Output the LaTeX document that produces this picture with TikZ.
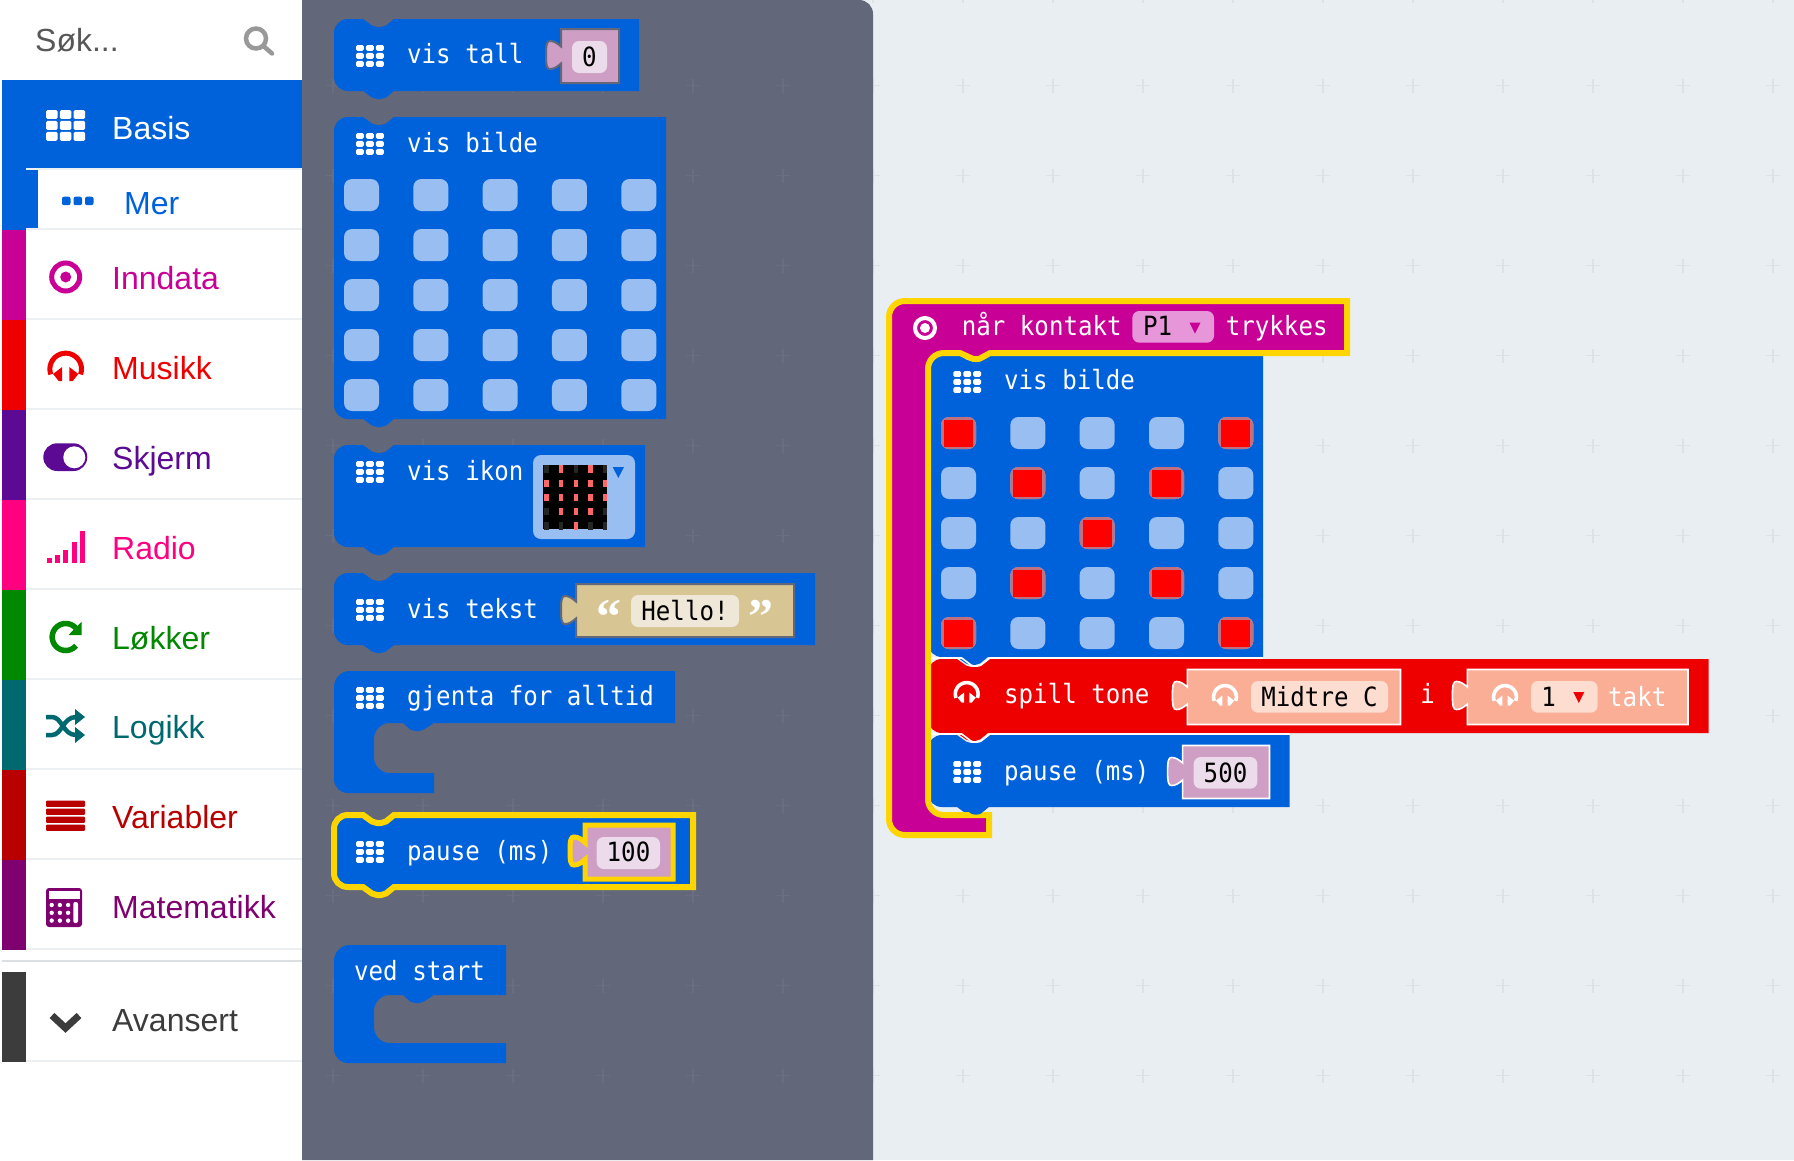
\documentclass[tikz,border=0pt]{standalone}
\usepackage{fontspec}
\setmainfont{Liberation Sans}
\newfontfamily\monof[FakeStretch=0.91]{DejaVu Sans Mono}
\newfontfamily\quotef{Liberation Serif}
\definecolor{bgc}{HTML}{E9EEF2}
\definecolor{flyc}{HTML}{62687A}
\definecolor{plusc}{HTML}{DDE2E6}
\definecolor{flypc}{HTML}{696F81}
\definecolor{sepc}{HTML}{ECF0F3}
\definecolor{basisc}{HTML}{0062DB}
\definecolor{inputc}{HTML}{C90096}
\definecolor{musicc}{HTML}{EE0000}
\definecolor{screenc}{HTML}{5C0A94}
\definecolor{radioc}{HTML}{FF0080}
\definecolor{loopc}{HTML}{008800}
\definecolor{logicc}{HTML}{006970}
\definecolor{varc}{HTML}{B80000}
\definecolor{mathc}{HTML}{7F006F}
\definecolor{advc}{HTML}{3C3C3C}
\definecolor{ledc}{HTML}{99BEF1}
\definecolor{rimc}{HTML}{C0707F}
\definecolor{numc}{HTML}{CE9EC4}
\definecolor{numfc}{HTML}{ECDCEB}
\definecolor{strc}{HTML}{D8C594}
\definecolor{strfc}{HTML}{EFE8D8}
\definecolor{notec}{HTML}{FBAE96}
\definecolor{notefc}{HTML}{FDDDD0}
\definecolor{pinfc}{HTML}{E796DA}
\definecolor{hlc}{HTML}{FFD500}
\tikzset{
  sidelabel/.style={font=\fontsize{32}{36}\selectfont, anchor=base west, inner sep=0pt},
  blocktext/.style={font=\monof\fontsize{26.5}{30}\selectfont, text=white, anchor=base west, inner sep=0pt},
  fieldtext/.style={font=\monof\fontsize{26.5}{30}\selectfont, text=black, anchor=base, inner sep=0pt},
  blueblk/.style={fill=basisc},
  cellstyle/.style={fill=ledc, rounded corners=8pt},
  valgray/.style={line width=2pt, draw=flyc, miter limit=10},
  valwhite/.style={line width=1.6pt, draw=white, miter limit=10},
}
% stack block: style, x0, y0, x1, y1
\newcommand\stackblk[5]{\path[#1] (#2,#3+14) .. controls (#2,#3+6) and (#2+6,#3) .. (#2+14,#3) -- (#2+29,#3) -- (#2+38,#3+6.5) .. controls (#2+40,#3+8) and (#2+41,#3+8) .. (#2+43,#3+8) -- (#2+47,#3+8) .. controls (#2+49,#3+8) and (#2+50,#3+8) .. (#2+52,#3+6.5) -- (#2+60,#3) -- (#4,#3) -- (#4,#5) -- (#2+60,#5) -- (#2+52,#5+6.5) .. controls (#2+50,#5+8) and (#2+49,#5+8) .. (#2+47,#5+8) -- (#2+43,#5+8) .. controls (#2+41,#5+8) and (#2+40,#5+8) .. (#2+38,#5+6.5) -- (#2+29,#5) -- (#2+14,#5) .. controls (#2+6,#5) and (#2,#5-6) .. (#2,#5-14) -- cycle;}
% C block: x0,y0,x1(top right),yh,xb,yi,yb
\newcommand\cblk[7]{\path[blueblk] (#1,#2+16) .. controls (#1,#2+7) and (#1+7,#2) .. (#1+16,#2) -- (#3,#2) -- (#3,#4) -- (#1+100,#4) -- (#1+90,#4+6.5) .. controls (#1+88,#4+8) and (#1+87,#4+8) .. (#1+85,#4+8) -- (#1+81,#4+8) .. controls (#1+79,#4+8) and (#1+78,#4+8) .. (#1+76,#4+6.5) -- (#1+69,#4) -- (#1+56,#4) .. controls (#1+47,#4) and (#1+40,#4+7) .. (#1+40,#4+16) -- (#1+40,#6-16) .. controls (#1+40,#6-7) and (#1+47,#6) .. (#1+56,#6) -- (#5,#6) -- (#5,#7) -- (#1+14,#7) .. controls (#1+6,#7) and (#1,#7-6) .. (#1,#7-14) -- cycle;}
% value block: style, x0, y0, x1, y1
\newcommand\valblk[5]{\path[#1] (#2,#3) -- (#4,#3) -- (#4,#5) -- (#2,#5) -- (#2,#3+34.5) .. controls (#2-4,#3+38) and (#2-7,#3+40) .. (#2-11,#3+40) .. controls (#2-14,#3+40) and (#2-15,#3+37) .. (#2-15,#3+26) .. controls (#2-15,#3+15) and (#2-14,#3+12) .. (#2-11,#3+12) .. controls (#2-7,#3+12) and (#2-4,#3+14) .. (#2,#3+17.5) -- cycle;}
% grid icon: x, y, w, h, colour
\newcommand\gridicon[5]{\foreach \gi in {0,1,2}{\foreach \gj in {0,1,2}{\path[fill=#5, rounded corners=1.5pt] ({#1+\gi*(#3+2.2)/3.03},{#2+\gj*(#4+2.2)/3.03}) rectangle ++({(#3-4.4)/3},{(#4-4.4)/3});}}}
% headphones: cx, cy, scale, colour
\newcommand\headph[4]{\draw[#4, line width=#3*5pt] plot[domain=-20:200,samples=30] ({#1+15.8*#3*cos(\x)},{#2-15.8*#3*sin(\x)});
  \fill[#4] (#1-3.6*#3,#2-2*#3) -- (#1-3.6*#3,#2+12*#3) -- (#1-7*#3,#2+12*#3) -- (#1-12.6*#3,#2+5*#3) -- cycle;
  \fill[#4] (#1+3.6*#3,#2-2*#3) -- (#1+3.6*#3,#2+12*#3) -- (#1+7*#3,#2+12*#3) -- (#1+12.6*#3,#2+5*#3) -- cycle;}
\newcommand\plusmark[3]{\draw[#3, line width=1.6pt] (#1-7,#2) -- (#1+7,#2) (#1,#2-7) -- (#1,#2+7);}
\begin{document}
\begin{tikzpicture}[x=1pt,y=-1pt]
\useasboundingbox (0,0) rectangle (1794,1160);
\fill[bgc] (0,0) rectangle (1794,1160);
% workspace grid
\foreach \py in {-4.5,85.5,175.5,265.5,355.5,445.5,535.5,625.5,715.5,805.5,895.5,985.5,1075.5}{
  \foreach \px in {873,963,1053,1143,1233,1323,1413,1503,1593,1683,1773}{\plusmark{\px}{\py}{plusc}}}
% sidebar
\fill[white] (0,0) rectangle (302,1160);
% flyout
\fill[flyc] (302,0) -- (859,0) .. controls (867,0) and (873,6) .. (873,14) -- (873,1160) -- (302,1160) -- cycle;
\foreach \py in {85.5,175.5,265.5,355.5,445.5,535.5,625.5,715.5,805.5,895.5,985.5,1075.5}{
  \foreach \px in {333,423,513,603,693,783}{\plusmark{\px}{\py}{flypc}}}
% sidebar rows
\fill[basisc] (2,80) rectangle (302,168);
\fill[basisc] (2,168) rectangle (38,230);
\fill[sepc] (26,168) rectangle (302,170);
\fill[white] (38,170) rectangle (302,228);
\foreach \py/\cl in {230/inputc,320/musicc,410/screenc,500/radioc,590/loopc,680/logicc,770/varc,860/mathc}{
  \fill[\cl] (2,\py) rectangle (26,\py+90);
  \fill[sepc] (26,\py-2) rectangle (302,\py);}
\fill[sepc] (26,948) rectangle (302,950);
\fill[sepc!85!gray] (2,960) rectangle (302,962);
\fill[advc] (2,972) rectangle (26,1062);
\fill[sepc] (26,1060) rectangle (302,1062);
% sidebar text
\node[sidelabel, text=black!66] (search) at (35,51) {Søk...};
\node[sidelabel, text=white] (tbasis) at (112,139) {Basis};
\node[sidelabel, text=basisc] (tmer) at (124,214) {Mer};
\node[sidelabel, text=inputc] (tinput) at (112,289) {Inndata};
\node[sidelabel, text=musicc] (tmusic) at (112,379) {Musikk};
\node[sidelabel, text=screenc] (tscreen) at (112,469) {Skjerm};
\node[sidelabel, text=radioc] (tradio) at (112,559) {Radio};
\node[sidelabel, text=loopc] (tloop) at (112,649) {Løkker};
\node[sidelabel, text=logicc] (tlogic) at (112,738) {Logikk};
\node[sidelabel, text=varc] (tvar) at (112,828) {Variabler};
\node[sidelabel, text=mathc] (tmath) at (112,918) {Matematikk};
\node[sidelabel, text=advc] (tadv) at (112,1031) {Avansert};
% sidebar icons
\draw[black!40, line width=4.5pt] (256,38.5) circle (10pt);
\draw[black!40, line width=4.5pt, line cap=round] (264,46.5) -- (272,53.5);
\gridicon{46}{110}{39.5}{31}{white}
\foreach \i in {0,1,2}{\path[fill=basisc, rounded corners=2pt] ({62+\i*11.5},196.7) rectangle ++(8.5,8.5);}
\draw[inputc, line width=5pt] (65.7,277) circle (14pt);
\fill[inputc] (65.7,277) circle (5.5pt);
\headph{65.7}{369}{1}{musicc}
\path[fill=screenc, rounded corners=13.8pt] (43.3,443.3) rectangle (87.3,471);
\fill[white] (74.3,457.3) circle (11pt);
\foreach \bx/\by in {46.7/558.3,55/555,63.3/550,71.7/541.7,80/531}{\fill[radioc] (\bx,\by) rectangle (\bx+5,563.3);}
\draw[loopc, line width=5.5pt] plot[domain=40:320,samples=30] ({65.7+13.5*cos(\x)},{637-13.5*sin(\x)});
\fill[loopc] (81.7,621.7) -- (81.7,635) -- (68.5,635) -- cycle;
\draw[logicc, line width=4.5pt] (46,717) -- (52,717) .. controls (62,717) and (63,735) .. (76,735);
\draw[logicc, line width=4.5pt] (46,735) -- (52,735) .. controls (62,735) and (63,717) .. (76,717);
\fill[logicc] (75,709) -- (85,717) -- (75,725) -- cycle;
\fill[logicc] (75,727) -- (85,735) -- (75,743) -- cycle;
\foreach \i in {0,1,2,3}{\path[fill=varc, rounded corners=1pt] (46,{800.7+\i*8}) rectangle ++(39,6.2);}
\path[fill=mathc, rounded corners=3pt] (46,888) rectangle (82,927);
\fill[white] (49,891) rectangle (79.5,899);
\foreach \i in {0,1,2}{\foreach \j in {0,1,2}{\fill[white] ({51.7+\i*8.2},{905+\j*7.8}) circle (2.2pt);}}
\path[fill=white, rounded corners=2pt] (73.3,902) rectangle (78,923);
\draw[advc, line width=7pt] (52,1015.5) -- (65.5,1028) -- (79,1015.5);
% ---- flyout blocks ----
\stackblk{blueblk}{334}{19}{639}{91}
\gridicon{356}{45}{28}{22}{white}
\node[blocktext] (t1) at (407,63) {vis tall};
\valblk{fill=numc, valgray}{561}{29}{619}{83}
\path[fill=numfc, rounded corners=7pt] (572,41) rectangle (607,73);
\node[fieldtext] (v1) at (589.5,66) {0};
% vis bilde
\stackblk{blueblk}{334}{117}{666}{419}
\gridicon{356}{133}{28}{22}{white}
\node[blocktext] (t2) at (407,152) {vis bilde};
\foreach \r in {0,...,4}{\foreach \c in {0,...,4}{\path[cellstyle] ({344+\c*69.33},{179+\r*50}) rectangle ++(35,32);}}
% vis ikon
\stackblk{blueblk}{334}{445}{645}{547}
\gridicon{356}{461}{28}{22}{white}
\node[blocktext] (t3) at (407,480) {vis ikon};
\path[fill=ledc, rounded corners=8pt] (533,455) rectangle (635,539);
\fill[black] (543,465) rectangle (607,529);
\foreach \r/\lst in {0/{0,1,0,1,0},1/{1,1,1,1,1},2/{1,1,1,1,1},3/{0,1,1,1,0},4/{0,0,1,0,0}}{
  \foreach \v [count=\c from 0] in \lst{
    \ifnum\v=1 \fill[red!60!white!100] ({544.3+\c*14.7},{465.3+\r*14.2}) rectangle ++(4.2,7.4);
    \else \fill[black!85] ({544.3+\c*14.7},{465.3+\r*14.2}) rectangle ++(4.2,7.4);\fi}}
\fill[basisc] (612.7,467) -- (624,467) -- (618.3,478) -- cycle;
% vis tekst
\stackblk{blueblk}{334}{573}{815}{645}
\gridicon{356}{599}{28}{22}{white}
\node[blocktext] (t4) at (407,618) {vis tekst};
\valblk{fill=strc, valgray}{576}{584}{794}{637}
\path[fill=strfc, rounded corners=7pt] (631,595) rectangle (739,627);
\node[fieldtext] (v4) at (685,620) {Hello!};
\node[font=\quotef\bfseries\fontsize{50}{50}\selectfont, text=white, anchor=base, inner sep=0pt] (q1) at (609,633) {“};
\node[font=\quotef\bfseries\fontsize{50}{50}\selectfont, text=white, anchor=base, inner sep=0pt] (q2) at (761,633) {”};
% gjenta
\cblk{334}{671}{675}{723}{434}{773}{793}
\gridicon{356}{687}{28}{22}{white}
\node[blocktext] (t5) at (407,705) {gjenta for alltid};
% pause highlighted
\stackblk{blueblk, draw=hlc, line width=6pt, miter limit=10}{334}{815}{693}{887}
\gridicon{356}{841}{28}{22}{white}
\node[blocktext] (t6) at (407,860) {pause (ms)};
\valblk{fill=numc, draw=hlc, line width=5pt, miter limit=10}{585}{825}{673}{879}
\path[fill=numfc, rounded corners=7pt] (596.7,837) rectangle (660,869);
\node[fieldtext] (v6) at (628.5,861) {100};
% ved start
\cblk{334}{945}{506}{995}{506}{1043}{1063}
\node[blocktext] (t7) at (354,980) {ved start};
% ---- workspace blocks ----
\stackblk{blueblk}{928}{353}{1263}{657}
\gridicon{953.3}{371}{28}{22}{white}
\node[blocktext] (t8) at (1004,389) {vis bilde};
\foreach \r in {0,...,4}{\foreach \c in {0,...,4}{\path[cellstyle] ({941+\c*69.33},{417+\r*50}) rectangle ++(35,32);}}
\foreach \r/\c in {0/0,0/4,1/1,1/3,2/2,3/1,3/3,4/0,4/4}{
  \path[fill=rimc, rounded corners=8pt] ({941+\c*69.33},{417+\r*50}) rectangle ++(35,32);
  \fill[red] ({944+\c*69.33},{419.5+\r*50}) rectangle ++(29,27);}
% spill tone
\stackblk{fill=musicc}{928}{659}{1708.6}{733}
\draw[white, line width=1.6pt] (931,658) -- (961.7,658) -- (971,665) .. controls (973,666.5) and (979,666.5) .. (981,665) -- (990,658) -- (1263,658);
\headph{966.7}{694}{0.72}{white}
\node[blocktext] (t9) at (1004,703) {spill tone};
\valblk{fill=notec, valwhite}{1187.4}{669.5}{1400.5}{724.5}
\headph{1225}{697}{0.72}{white}
\path[fill=notefc, rounded corners=7pt] (1251,681) rectangle (1388,712.7);
\node[fieldtext] (v91) at (1319.5,706.7) {Midtre C};
\node[blocktext, anchor=base] (t10) at (1427.5,703) {i};
\valblk{fill=notec, valwhite}{1467.4}{669.5}{1688}{724.5}
\headph{1505}{697}{0.72}{white}
\path[fill=notefc, rounded corners=7pt] (1531,681) rectangle (1597.6,712.7);
\node[fieldtext] (v92) at (1548.5,706.7) {1};
\fill[musicc] (1573.3,692) -- (1584.3,692) -- (1578.8,703) -- cycle;
\node[blocktext] (t11) at (1608,706.7) {takt};
% pause in workspace
\stackblk{blueblk}{928}{735}{1289.5}{807}
\draw[white, line width=1.6pt] (931,734) -- (961.7,734) -- (971,741) .. controls (973,742.5) and (979,742.5) .. (981,741) -- (990,734) -- (1289.5,734);
\gridicon{953.3}{761}{28}{22}{white}
\node[blocktext] (t12) at (1004,780) {pause (ms)};
\valblk{fill=numc, valwhite}{1182.6}{745.5}{1269.5}{798.5}
\path[fill=numfc, rounded corners=7pt] (1193.7,757) rectangle (1257.3,788.7);
\node[fieldtext] (v12) at (1225.5,782.7) {500};
% hat with highlight
\path[fill=inputc, draw=hlc, line width=6pt, miter limit=10] (889,317) .. controls (889,308) and (896,301) .. (905,301) -- (1347,301) -- (1347,353) -- (990,353) -- (981,358) .. controls (979,359.5) and (973,359.5) .. (971,358) -- (960,353) -- (944,353) .. controls (935,353) and (928,360) .. (928,369) -- (928,799) .. controls (928,808) and (935,815) .. (944,815) -- (989,815) -- (989,835) -- (905,835) .. controls (896,835) and (889,828) .. (889,819) -- cycle;
% bump of pause over the highlight
\fill[basisc] (961,806) -- (990,806) -- (981,813.5) .. controls (979,815) and (973,815) .. (971,813.5) -- cycle;
\draw[white, line width=4pt] (925,328) circle (10pt);
\fill[white] (925,328) circle (5pt);
\node[blocktext] (t13) at (961.7,335) {når kontakt};
\path[fill=pinfc, rounded corners=7pt] (1132.3,311) rectangle (1214,342.7);
\node[fieldtext, anchor=base west] (v13) at (1143,335.5) {P1};
\fill[inputc] (1189.5,322.7) -- (1200.5,322.7) -- (1195,333.7) -- cycle;
\node[blocktext] (t14) at (1225.7,335) {trykkes};
\end{tikzpicture}
\end{document}
